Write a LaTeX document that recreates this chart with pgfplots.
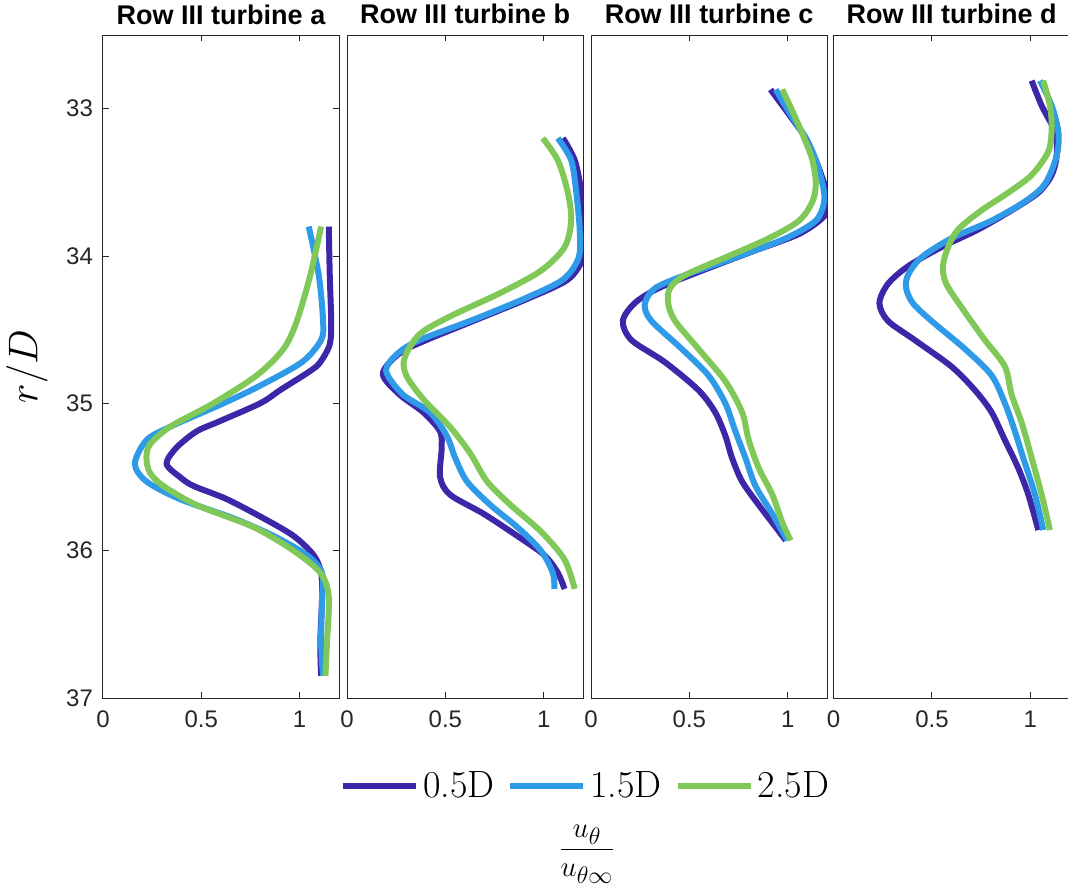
\documentclass[border=0pt]{standalone}
\usepackage{fontspec}
\usepackage{pgfplots}
\pgfplotsset{compat=1.18}
\DeclareMathSizes{14.4}{14.4}{12}{10}
\newfontfamily\sansf{Liberation Sans}
\definecolor{c1}{RGB}{62,38,168}
\definecolor{c2}{RGB}{46,154,232}
\definecolor{c3}{RGB}{128,200,88}
\definecolor{axgray}{RGB}{38,38,38}

\pgfplotstableread{
u r
1.148 33.80
1.153 34.13
1.160 34.44
1.153 34.60
1.105 34.72
1.054 34.78
0.901 34.91
0.799 35.00
0.578 35.13
0.476 35.19
0.374 35.30
0.323 35.41
0.391 35.50
0.459 35.56
0.629 35.65
0.816 35.78
0.969 35.90
1.071 36.03
1.109 36.15
1.114 36.31
1.105 36.62
1.109 36.85
}\aone
\pgfplotstableread{
u r
1.046 33.80
1.097 34.13
1.119 34.44
1.109 34.57
1.012 34.72
0.799 34.88
0.612 35.00
0.340 35.16
0.221 35.25
0.162 35.41
0.221 35.53
0.391 35.65
0.663 35.78
0.867 35.90
1.037 36.03
1.114 36.15
1.114 36.31
1.109 36.62
1.119 36.85
}\atwo
\pgfplotstableread{
u r
1.109 33.80
1.054 34.13
0.986 34.44
0.918 34.63
0.782 34.81
0.561 35.00
0.340 35.16
0.238 35.28
0.221 35.37
0.238 35.47
0.306 35.56
0.476 35.69
0.765 35.84
0.969 36.00
1.105 36.15
1.148 36.31
1.139 36.62
1.131 36.85
}\athree
\pgfplotstableread{
u r
1.098 33.20
1.158 33.35
1.192 33.57
1.205 33.82
1.200 34.01
1.123 34.16
0.918 34.29
0.644 34.44
0.404 34.57
0.267 34.66
0.182 34.80
0.267 34.94
0.387 35.06
0.473 35.19
0.481 35.31
0.473 35.50
0.524 35.62
0.695 35.75
0.866 35.90
1.003 36.03
1.072 36.15
1.106 36.26
}\bone
\pgfplotstableread{
u r
1.072 33.20
1.140 33.35
1.166 33.57
1.183 33.82
1.178 34.01
1.098 34.16
0.901 34.29
0.627 34.44
0.370 34.57
0.259 34.66
0.199 34.78
0.284 34.94
0.421 35.06
0.507 35.22
0.550 35.37
0.610 35.53
0.729 35.69
0.866 35.84
0.986 36.00
1.046 36.15
1.055 36.26
}\btwo
\pgfplotstableread{
u r
0.995 33.20
1.072 33.35
1.123 33.57
1.140 33.76
1.106 33.94
0.986 34.10
0.781 34.25
0.524 34.41
0.370 34.53
0.293 34.69
0.301 34.81
0.387 34.97
0.524 35.16
0.627 35.34
0.712 35.53
0.832 35.69
0.986 35.87
1.106 36.06
1.158 36.26
}\bthree
\pgfplotstableread{
u r
0.913 32.87
1.007 33.04
1.092 33.20
1.143 33.35
1.186 33.51
1.208 33.63
1.186 33.73
1.058 33.85
0.819 33.97
0.563 34.10
0.341 34.22
0.222 34.32
0.162 34.44
0.205 34.57
0.375 34.72
0.546 34.91
0.631 35.06
0.683 35.22
0.717 35.37
0.768 35.53
0.853 35.69
0.939 35.84
0.990 35.93
}\cone
\pgfplotstableread{
u r
0.939 32.87
1.015 33.04
1.092 33.20
1.143 33.35
1.177 33.51
1.186 33.63
1.143 33.76
0.990 33.88
0.734 34.01
0.478 34.13
0.324 34.22
0.273 34.33
0.307 34.44
0.461 34.63
0.597 34.81
0.683 35.00
0.734 35.19
0.785 35.37
0.836 35.56
0.922 35.75
0.998 35.93
}\ctwo
\pgfplotstableread{
u r
0.973 32.87
1.032 33.04
1.084 33.20
1.126 33.35
1.143 33.51
1.126 33.63
1.058 33.76
0.904 33.88
0.683 34.01
0.478 34.13
0.401 34.22
0.392 34.32
0.427 34.44
0.546 34.63
0.683 34.85
0.768 35.06
0.802 35.25
0.853 35.44
0.922 35.62
0.973 35.81
1.015 35.93
}\cthree
\pgfplotstableread{
u r
1.007 32.81
1.058 32.98
1.126 33.16
1.134 33.32
1.109 33.45
1.041 33.57
0.905 33.69
0.735 33.82
0.548 33.94
0.378 34.07
0.276 34.19
0.233 34.32
0.276 34.44
0.412 34.57
0.599 34.75
0.718 34.91
0.803 35.06
0.871 35.25
0.939 35.44
0.990 35.62
1.041 35.86
}\done
\pgfplotstableread{
u r
1.049 32.81
1.109 32.98
1.143 33.16
1.134 33.32
1.075 33.51
0.973 33.63
0.803 33.76
0.599 33.88
0.446 34.01
0.378 34.13
0.369 34.22
0.403 34.32
0.497 34.44
0.667 34.63
0.803 34.81
0.871 35.00
0.922 35.19
0.964 35.37
1.024 35.62
1.066 35.86
}\dtwo
\pgfplotstableread{
u r
1.066 32.81
1.100 32.98
1.109 33.13
1.092 33.29
1.007 33.45
0.888 33.57
0.752 33.69
0.633 33.82
0.582 33.94
0.556 34.07
0.573 34.19
0.667 34.38
0.769 34.57
0.871 34.75
0.905 34.94
0.956 35.13
1.007 35.37
1.058 35.62
1.100 35.86
}\dthree

\pgfplotsset{
  panel/.style={
    width=118pt, height=331.5pt, scale only axis,
    anchor=north west,
    xmin=0, xmax=1.2, ymin=32.5, ymax=37, y dir=reverse,
    xtick={0,0.5,1}, ytick={33,34,35,36,37},
    tick align=inside, major tick length=3pt,
    axis line style={draw=axgray, line width=0.5pt},
    tick style={draw=axgray, line width=0.5pt},
    /pgf/number format/assume math mode=true,
    ticklabel style={font=\sansf\fontsize{12}{14}\selectfont, text=axgray},
    x tick label style={yshift=-3pt},
    y tick label style={xshift=-1.5pt},
    title style={at={(0.5,1)}, anchor=base, yshift=-0.5pt,
      font=\sansf\bfseries\fontsize{13.5}{16}\selectfont},
    every axis plot/.append style={line width=3pt, line join=round, smooth, tension=0.5},
  },
}

\begin{document}
\begin{tikzpicture}
\path[use as bounding box] (0pt,0pt) rectangle (534pt,-446pt);

\begin{axis}[panel, at={(51.5pt,-17.5pt)},
  title={Row III turbine a},
  ylabel={$r/D$},
  ylabel style={at={(axis description cs:-0.322,0.5)}, anchor=center,
    font=\fontsize{20.74}{24}\selectfont},
  xlabel={$\displaystyle\frac{u_\theta}{u_{\theta\infty}}$},
  xlabel style={at={(axis description cs:2.051,-0.2355)}, anchor=center,
    font=\fontsize{14.4}{17}\selectfont},
  legend columns=3,
  legend style={at={(2.049,-0.1327)}, anchor=center, draw=none, fill=none,
    font=\fontsize{19}{22}\selectfont, nodes={inner sep=2pt},
    /tikz/every even column/.append style={column sep=4.5pt}},
  legend image code/.code={\draw[#1, line width=3pt] (0pt,0pt) -- (36.5pt,0pt);},
]
\addplot[c1] table[x=u, y=r] {\aone};
\addplot[c2] table[x=u, y=r] {\atwo};
\addplot[c3] table[x=u, y=r] {\athree};
\legend{0.5D, 1.5D, 2.5D}
\end{axis}

\begin{axis}[panel, at={(173.5pt,-17.5pt)}, ytick=\empty,
  title={Row III turbine b}]
\addplot[c1] table[x=u, y=r] {\bone};
\addplot[c2] table[x=u, y=r] {\btwo};
\addplot[c3] table[x=u, y=r] {\bthree};
\end{axis}

\begin{axis}[panel, at={(295.5pt,-17.5pt)}, ytick=\empty,
  title={Row III turbine c}]
\addplot[c1] table[x=u, y=r] {\cone};
\addplot[c2] table[x=u, y=r] {\ctwo};
\addplot[c3] table[x=u, y=r] {\cthree};
\end{axis}

\begin{axis}[panel, at={(416.8pt,-17.5pt)}, ytick=\empty,
  title={Row III turbine d}]
\addplot[c1] table[x=u, y=r] {\done};
\addplot[c2] table[x=u, y=r] {\dtwo};
\addplot[c3] table[x=u, y=r] {\dthree};
\end{axis}
\end{tikzpicture}
\end{document}
